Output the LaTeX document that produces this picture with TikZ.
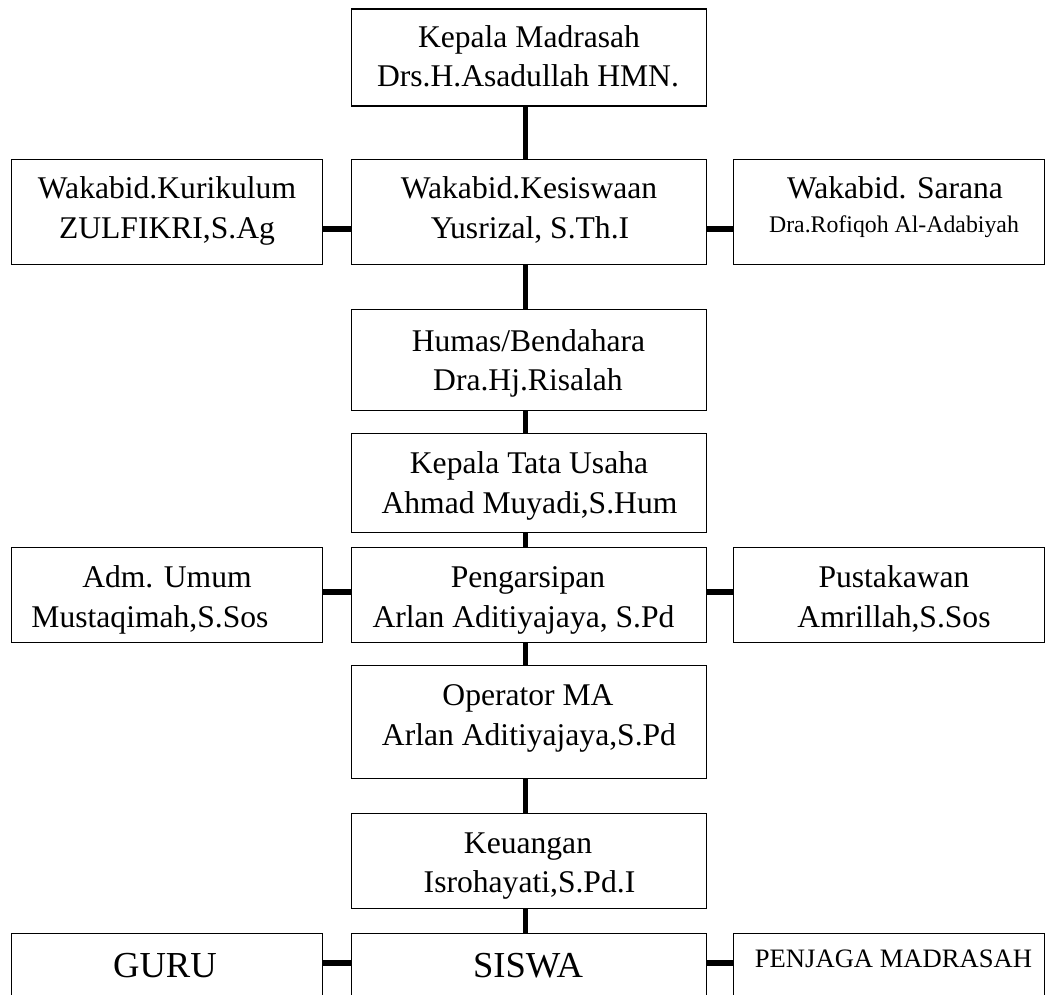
\documentclass[tikz,border=0pt]{standalone}
\usepackage{fontspec}
\setmainfont{Liberation Serif}
\newcommand\fsM{\fontsize{31.6}{40}\selectfont}
\newcommand\fsS{\fontsize{23.8}{28}\selectfont}
\newcommand\fsP{\fontsize{26.6}{30}\selectfont}
\newcommand\fsL{\fontsize{36.6}{42}\selectfont}
\tikzset{
  box/.style={draw, line width=1.5pt, rectangle, inner sep=0pt, outer sep=0pt},
  txt/.style={inner sep=0pt, anchor=base, font=\fsM},
  vconn/.style={line width=5pt},
  hconn/.style={line width=6pt},
}
\begin{document}
\begin{tikzpicture}[x=1pt,y=-1pt]
\useasboundingbox (0,0) rectangle (1046,995);
\fill[white] (0,0) rectangle (1046,995);
\clip (0,0) rectangle (1046,995);
% boxes
\node[box, minimum width=355pt, minimum height=97pt]  (kepala)    at (529,57.5) {};
\node[box, minimum width=311pt, minimum height=105pt] (kurikulum) at (167,212) {};
\node[box, minimum width=355pt, minimum height=105pt] (kesiswaan) at (529,212) {};
\node[box, minimum width=311pt, minimum height=105pt] (sarana)    at (889,212) {};
\node[box, minimum width=355pt, minimum height=101pt] (humas)     at (529,360) {};
\node[box, minimum width=355pt, minimum height=99pt]  (ktu)       at (529,483) {};
\node[box, minimum width=311pt, minimum height=95pt]  (adm)       at (167,595) {};
\node[box, minimum width=355pt, minimum height=95pt]  (peng)      at (529,595) {};
\node[box, minimum width=311pt, minimum height=95pt]  (pust)      at (889,595) {};
\node[box, minimum width=355pt, minimum height=113pt] (operator)  at (529,722) {};
\node[box, minimum width=355pt, minimum height=95pt]  (keuangan)  at (529,861) {};
\node[box, minimum width=311pt, minimum height=76.5pt] (guru)     at (167,971.75) {};
\node[box, minimum width=355pt, minimum height=76.5pt] (siswa)    at (529,971.75) {};
\node[box, minimum width=311pt, minimum height=76.5pt] (penjaga)  at (889,971.75) {};
% texts
\node[txt] (t1a) at (529,48) {Kepala Madrasah};
\node[txt] (t1b) at (528,87) {Drs.H.Asadullah HMN.};
\node[txt] (t2a) at (167,199) {Wakabid.Kurikulum};
\node[txt] (t2b) at (167,238) {ZULFIKRI,S.Ag};
\node[txt] (t3a) at (529,199) {Wakabid.Kesiswaan};
\node[txt] (t3b) at (530,238) {Yusrizal, S.Th.I};
\node[txt] (t4a) at (895,198) {Wakabid. Sarana};
\node[txt, font=\fsS] (t4b) at (894,233) {Dra.Rofiqoh Al-Adabiyah};
\node[txt] (t5a) at (528.5,351) {Humas/Bendahara};
\node[txt] (t5b) at (528,390) {Dra.Hj.Risalah};
\node[txt] (t6a) at (529,473) {Kepala Tata Usaha};
\node[txt] (t6b) at (529.5,513) {Ahmad Muyadi,S.Hum};
\node[txt] (t7a) at (167,587) {Adm. Umum};
\node[txt] (t7b) at (150,627) {Mustaqimah,S.Sos};
\node[txt] (t8a) at (528,587) {Pengarsipan};
\node[txt] (t8b) at (523.5,627) {Arlan Aditiyajaya, S.Pd};
\node[txt] (t9a) at (894,587) {Pustakawan};
\node[txt] (t9b) at (894,627) {Amrillah,S.Sos};
\node[txt] (t10a) at (528,705) {Operator MA};
\node[txt] (t10b) at (529,745) {Arlan Aditiyajaya,S.Pd};
\node[txt] (t11a) at (528,853) {Keuangan};
\node[txt] (t11b) at (529.5,892) {Isrohayati,S.Pd.I};
\node[txt, font=\fsL] (t12) at (165,977) {GURU};
\node[txt, font=\fsL] (t13) at (528,977) {SISWA};
\node[txt, font=\fsP] (t14) at (893.5,967) {PENJAGA MADRASAH};
% vertical connectors
\draw[vconn] ([xshift=-4pt]kepala.south) -- ([xshift=-4pt]kesiswaan.north);
\draw[vconn] ([xshift=-4pt]kesiswaan.south) -- ([xshift=-4pt]humas.north);
\draw[vconn] ([xshift=-4pt]humas.south) -- ([xshift=-4pt]ktu.north);
\draw[vconn] ([xshift=-4pt]ktu.south) -- ([xshift=-4pt]peng.north);
\draw[vconn] ([xshift=-4pt]peng.south) -- ([xshift=-4pt]operator.north);
\draw[vconn] ([xshift=-4pt]operator.south) -- ([xshift=-4pt]keuangan.north);
\draw[vconn] ([xshift=-4pt]keuangan.south) -- ([xshift=-4pt]siswa.north);
% horizontal connectors
\coordinate (yr2) at (0,229);
\coordinate (yr7) at (0,592);
\coordinate (yr12) at (0,963);
\draw[hconn] (kurikulum.east |- yr2) -- (kesiswaan.west |- yr2);
\draw[hconn] (kesiswaan.east |- yr2) -- (sarana.west |- yr2);
\draw[hconn] (adm.east |- yr7) -- (peng.west |- yr7);
\draw[hconn] (peng.east |- yr7) -- (pust.west |- yr7);
\draw[hconn] (guru.east |- yr12) -- (siswa.west |- yr12);
\draw[hconn] (siswa.east |- yr12) -- (penjaga.west |- yr12);
\end{tikzpicture}
\end{document}
